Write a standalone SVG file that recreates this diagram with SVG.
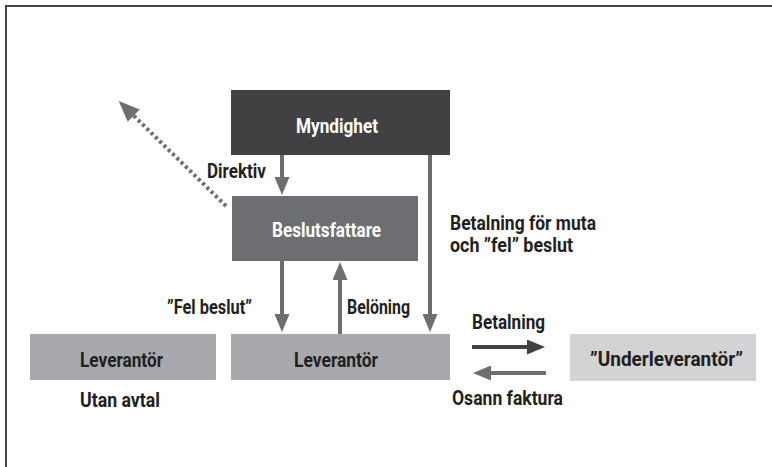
<svg xmlns="http://www.w3.org/2000/svg" width="772" height="467" viewBox="0 0 772 467">
<style>
.t{font-family:Roboto,"Liberation Sans",sans-serif;font-size:20px;font-weight:700;fill:#231f20}
.w{fill:#ffffff}
.ln{fill:none;stroke:#6d6e71;stroke-width:4}
.dk{stroke:#414143}
.dot{fill:none;stroke:#6d6e71;stroke-width:4;stroke-dasharray:3 3}
</style>
<defs>
<marker id="ag" markerUnits="userSpaceOnUse" markerWidth="18" markerHeight="15" viewBox="0 0 18 15" refX="1" refY="7.5" orient="auto">
<path d="M0,0 L18,7.5 L0,15 z" fill="#6d6e71"/>
</marker>
<marker id="ad" markerUnits="userSpaceOnUse" markerWidth="18" markerHeight="15" viewBox="0 0 18 15" refX="1" refY="7.5" orient="auto">
<path d="M0,0 L18,7.5 L0,15 z" fill="#414143"/>
</marker>
<marker id="av" markerUnits="userSpaceOnUse" markerWidth="21" markerHeight="17" viewBox="0 0 21 17" refX="1" refY="8.5" orient="auto">
<path d="M0,0 L21,8.5 L0,17 z" fill="#6d6e71"/>
</marker>
</defs>
<rect x="6" y="6" width="780" height="470" fill="#ffffff" stroke="#444444" stroke-width="2"/>
<g id="connectors">
<path class="ln" d="M282,155 V178" marker-end="url(#ag)"/>
<path class="ln" d="M430,155 V315" marker-end="url(#ag)"/>
<path class="ln" d="M282,261 V315" marker-end="url(#ag)"/>
<path class="ln" d="M340,334 V279" marker-end="url(#ag)"/>
<path class="ln dk" d="M472,347 H528" marker-end="url(#ad)"/>
<path class="ln" d="M546,373 H490" marker-end="url(#ag)"/>
<path class="dot" d="M226,206 L133,115" marker-end="url(#av)"/>
</g>
<g id="myndighet">
<rect x="231" y="90" width="219" height="65" fill="#414143"/>
<text class="t w" x="296" y="133" textLength="82" lengthAdjust="spacingAndGlyphs">Myndighet</text>
</g>
<g id="beslutsfattare">
<rect x="232" y="196" width="186" height="65" fill="#6d6e71"/>
<text class="t w" x="272" y="237" textLength="109" lengthAdjust="spacingAndGlyphs">Beslutsfattare</text>
</g>
<g id="leverantor1">
<rect x="30" y="334" width="186" height="46" fill="#a7a9ac"/>
<text class="t" x="80" y="367" textLength="83" lengthAdjust="spacingAndGlyphs">Leverantör</text>
</g>
<g id="leverantor2">
<rect x="231" y="334" width="219" height="46" fill="#a7a9ac"/>
<text class="t" x="294" y="367" textLength="84" lengthAdjust="spacingAndGlyphs">Leverantör</text>
</g>
<g id="underleverantor">
<rect x="570" y="334" width="186" height="47" fill="#d1d3d4"/>
<text class="t" x="590" y="366" textLength="153" lengthAdjust="spacingAndGlyphs">”Underleverantör”</text>
</g>
<g id="labels">
<text class="t" x="207" y="178" textLength="59" lengthAdjust="spacingAndGlyphs">Direktiv</text>
<text class="t" x="450" y="230" textLength="146" lengthAdjust="spacingAndGlyphs">Betalning för muta</text>
<text class="t" x="450" y="252" textLength="123" lengthAdjust="spacingAndGlyphs">och ”fel” beslut</text>
<text class="t" x="167" y="314" textLength="85" lengthAdjust="spacingAndGlyphs">”Fel beslut”</text>
<text class="t" x="347" y="314" textLength="63" lengthAdjust="spacingAndGlyphs">Belöning</text>
<text class="t" x="472" y="329" textLength="73" lengthAdjust="spacingAndGlyphs">Betalning</text>
<text class="t" x="452" y="405" textLength="111" lengthAdjust="spacingAndGlyphs">Osann faktura</text>
<text class="t" x="80" y="407" textLength="80" lengthAdjust="spacingAndGlyphs">Utan avtal</text>
</g>
</svg>
